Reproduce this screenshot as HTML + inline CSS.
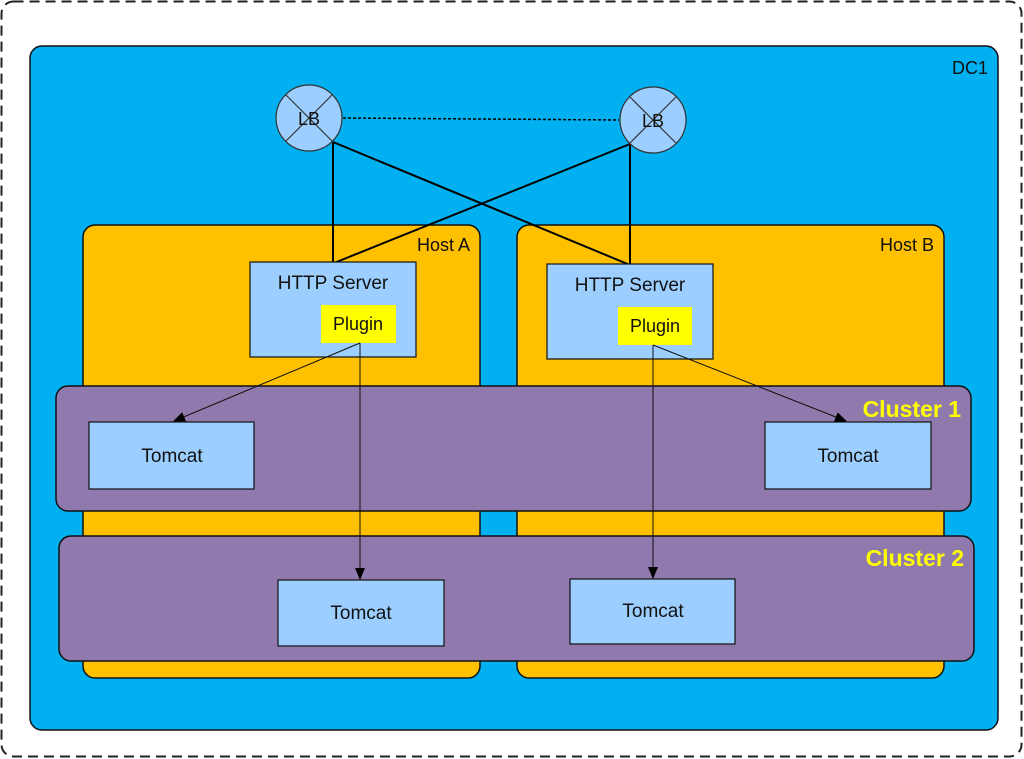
<!DOCTYPE html>
<html><head><meta charset="utf-8"><style>
html,body{margin:0;padding:0;background:#fff;width:1024px;height:759px;overflow:hidden}
svg text{font-family:"Liberation Sans",sans-serif}
</style></head><body>
<svg width="1024" height="759" viewBox="0 0 1024 759" xmlns="http://www.w3.org/2000/svg">
<defs>
<marker id="ah" markerWidth="12" markerHeight="10" refX="11" refY="5" orient="auto" markerUnits="userSpaceOnUse">
<path d="M0,0 L12,5 L0,10 z" fill="#000"/></marker>
</defs>
<rect x="1.5" y="1.5" width="1020" height="755" rx="12" fill="#fff" stroke="#222" stroke-width="2" stroke-dasharray="10,6"/>
<rect x="30" y="46" width="968" height="684" rx="12" fill="#00b0f0" stroke="#111" stroke-width="1.5"/>
<text x="988" y="74" font-size="18" text-anchor="end" fill="#111">DC1</text>
<rect x="83" y="225" width="397" height="453" rx="12" fill="#ffc000" stroke="#111" stroke-width="1.5"/>
<rect x="517" y="225" width="427" height="453" rx="12" fill="#ffc000" stroke="#111" stroke-width="1.5"/>
<text x="470" y="251" font-size="18" text-anchor="end" fill="#111">Host A</text>
<text x="934" y="251" font-size="18" text-anchor="end" fill="#111">Host B</text>
<line x1="333" y1="142" x2="333" y2="263" stroke="#000" stroke-width="2"/>
<line x1="333" y1="142" x2="630" y2="265" stroke="#000" stroke-width="2"/>
<line x1="630" y1="144" x2="334" y2="263" stroke="#000" stroke-width="2"/>
<line x1="630" y1="144" x2="630" y2="265" stroke="#000" stroke-width="2"/>
<line x1="343" y1="118" x2="619" y2="120" stroke="#000" stroke-width="1.5" stroke-dasharray="3,2"/>
<g stroke="#333" stroke-width="1.2" fill="#9ccfff">
<circle cx="309" cy="118" r="33"/>
<line x1="286" y1="95" x2="332" y2="141"/><line x1="332" y1="95" x2="286" y2="141"/>
<circle cx="653" cy="120" r="33"/>
<line x1="630" y1="97" x2="676" y2="143"/><line x1="676" y1="97" x2="630" y2="143"/>
</g>
<text x="309" y="125" font-size="18" text-anchor="middle" fill="#111">LB</text>
<text x="653" y="127" font-size="18" text-anchor="middle" fill="#111">LB</text>
<rect x="250" y="262" width="166" height="95" fill="#9ccfff" stroke="#111" stroke-width="1.2"/>
<text x="333" y="289" font-size="19" text-anchor="middle" fill="#111">HTTP Server</text>
<rect x="321" y="305" width="75" height="38" fill="#ffff00"/>
<text x="358" y="330" font-size="18" text-anchor="middle" fill="#111">Plugin</text>
<rect x="547" y="264" width="166" height="95" fill="#9ccfff" stroke="#111" stroke-width="1.2"/>
<text x="630" y="291" font-size="19" text-anchor="middle" fill="#111">HTTP Server</text>
<rect x="618" y="307" width="74" height="38" fill="#ffff00"/>
<text x="655" y="332" font-size="18" text-anchor="middle" fill="#111">Plugin</text>
<rect x="56" y="386" width="915" height="125" rx="12" fill="#9079ad" stroke="#111" stroke-width="1.5"/>
<text x="961" y="417" font-size="23" font-weight="bold" text-anchor="end" fill="#ffff00">Cluster 1</text>
<rect x="59" y="536" width="915" height="125" rx="12" fill="#9079ad" stroke="#111" stroke-width="1.5"/>
<text x="964" y="566" font-size="23" font-weight="bold" text-anchor="end" fill="#ffff00">Cluster 2</text>
<g fill="#9ccfff" stroke="#111" stroke-width="1.2">
<rect x="89" y="422" width="165" height="67"/>
<rect x="765" y="422" width="166" height="67"/>
<rect x="278" y="580" width="166" height="66"/>
<rect x="570" y="579" width="165" height="65"/>
</g>
<g font-size="19" text-anchor="middle" fill="#111">
<text x="172" y="462">Tomcat</text>
<text x="848" y="462">Tomcat</text>
<text x="361" y="619">Tomcat</text>
<text x="653" y="617">Tomcat</text>
</g>
<g stroke="#111" stroke-width="1">
<line x1="360" y1="343" x2="174" y2="421" marker-end="url(#ah)"/>
<line x1="360" y1="343" x2="360" y2="579" marker-end="url(#ah)"/>
<line x1="653" y1="345" x2="846" y2="421" marker-end="url(#ah)"/>
<line x1="653" y1="345" x2="653" y2="578" marker-end="url(#ah)"/>
</g>
</svg>
</body></html>
